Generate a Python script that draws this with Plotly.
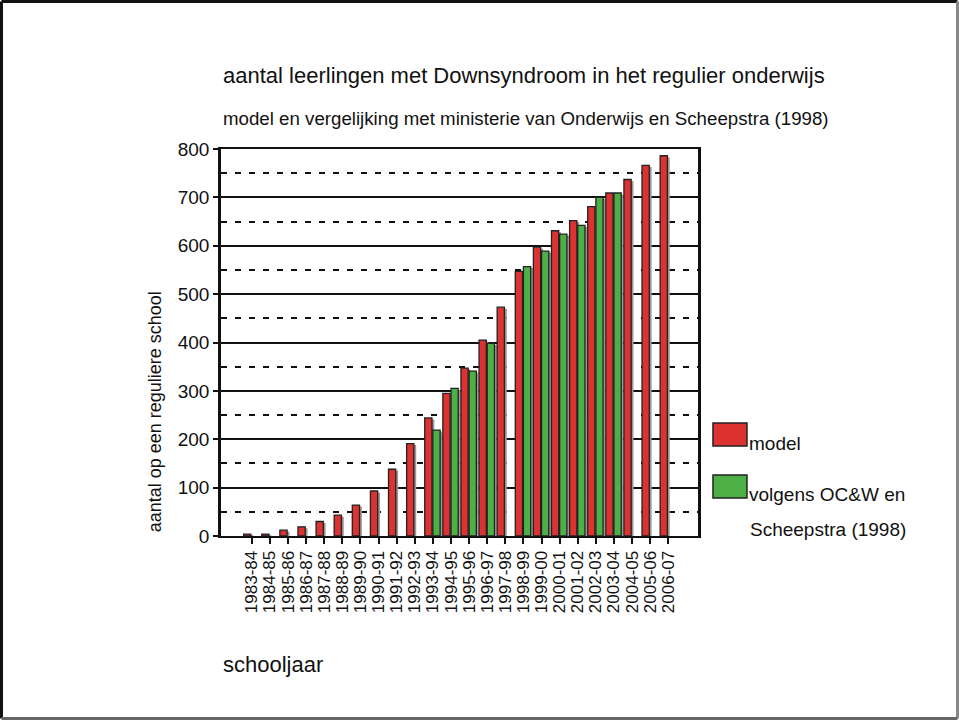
import plotly.graph_objects as go

# schooljaren
categories = ["1983-84", "1984-85", "1985-86", "1986-87", "1987-88", "1988-89",
              "1989-90", "1990-91", "1991-92", "1992-93", "1993-94", "1994-95",
              "1995-96", "1996-97", "1997-98", "1998-99", "1999-00", "2000-01",
              "2001-02", "2002-03", "2003-04", "2004-05", "2005-06", "2006-07"]

# model
model = [4, 4, 12, 19, 30, 43, 64, 93, 138, 191, 244, 295,
         347, 405, 473, 547, 597, 631, 652, 681, 709, 737, 766, 786]

# volgens OC&W en Scheepstra (1998)
ocw = [None, None, None, None, None, None, None, None, None, None, 219, 305,
       341, 398, None, 557, 589, 624, 642, 700, 709, None, None, None]

y_ticks = [0, 100, 200, 300, 400, 500, 600, 700, 800]

RED = "#DC3232"
GREEN = "#4DB046"
SHADOW = "#9a9a9a"
FONT = "Liberation Sans, Arial, sans-serif"

x = list(range(len(categories)))
bar_w = 0.40
red_off = -0.45
green_off = 0.0
sh = 0.13  # schaduw verschuiving

fig = go.Figure()

# schaduwen achter de balken
fig.add_trace(go.Bar(x=x, y=[v - 3 if v else None for v in model], offset=red_off + sh, width=bar_w,
                     marker=dict(color=SHADOW, line=dict(width=0)), hoverinfo="skip", showlegend=False))
fig.add_trace(go.Bar(x=x, y=[v - 3 if v else None for v in ocw], offset=green_off + sh, width=bar_w,
                     marker=dict(color=SHADOW, line=dict(width=0)), hoverinfo="skip", showlegend=False))

fig.add_trace(go.Bar(x=x, y=model, offset=red_off, width=bar_w, name="model",
                     marker=dict(color=RED, line=dict(color="#222", width=1.3))))
fig.add_trace(go.Bar(x=x, y=ocw, offset=green_off, width=bar_w, name="volgens OC&W en Scheepstra (1998)",
                     marker=dict(color=GREEN, line=dict(color="#222", width=1.3))))

fig.update_layout(
    width=959, height=720,
    margin=dict(l=221, r=261, t=149, b=184),
    barmode="overlay",
    showlegend=False,
    plot_bgcolor="white", paper_bgcolor="white",
    font=dict(family=FONT, color="#111"),
    xaxis=dict(
        range=[-1.70, 24.64], tickmode="array", tickvals=x, ticktext=categories,
        tickangle=-90, tickfont=dict(size=17), showgrid=False, zeroline=False,
        showline=True, linecolor="#111", linewidth=2, mirror=True,
        ticks="outside", ticklen=6, tickwidth=1.5, tickcolor="#111",
    ),
    yaxis=dict(
        range=[0, 800], tickvals=y_ticks, tickfont=dict(size=19),
        showgrid=True, gridcolor="#111", gridwidth=2, zeroline=False,
        showline=True, linecolor="#111", linewidth=2.5, mirror=True,
        ticks="outside", ticklen=5, tickwidth=2, tickcolor="#111",
        minor=dict(dtick=50, tick0=50, showgrid=True, gridcolor="#111",
                   gridwidth=2, griddash="6px,8px", ticks=""),
    ),
)

# titels
fig.add_annotation(text="aantal leerlingen met Downsyndroom in het regulier onderwijs",
                   x=0.0, y=1.191, xref="paper", yref="paper", xanchor="left", yanchor="middle",
                   showarrow=False, font=dict(size=22))
fig.add_annotation(text="model en vergelijking met ministerie van Onderwijs en Scheepstra (1998)",
                   x=0.0, y=1.080, xref="paper", yref="paper", xanchor="left", yanchor="middle",
                   showarrow=False, font=dict(size=18.7))
fig.add_annotation(text="aantal op een reguliere school", textangle=-90,
                   x=-0.138, y=0.320, xref="paper", yref="paper", xanchor="center", yanchor="middle",
                   showarrow=False, font=dict(size=18))
fig.add_annotation(text="schooljaar",
                   x=0.0, y=-0.333, xref="paper", yref="paper", xanchor="left", yanchor="middle",
                   showarrow=False, font=dict(size=22))

# legenda
fig.add_shape(type="rect", xref="paper", yref="paper", x0=1.0314, x1=1.1027, y0=0.2326, y1=0.2920,
              fillcolor=RED, line=dict(color="#222", width=1.5))
fig.add_shape(type="rect", xref="paper", yref="paper", x0=1.0314, x1=1.1027, y0=0.0982, y1=0.1576,
              fillcolor=GREEN, line=dict(color="#222", width=1.5))
fig.add_annotation(text="model", x=1.1027, y=0.238, xref="paper", yref="paper",
                   xanchor="left", yanchor="middle", showarrow=False, font=dict(size=19))
fig.add_annotation(text="volgens OC&W en", x=1.1027, y=0.106, xref="paper", yref="paper",
                   xanchor="left", yanchor="middle", showarrow=False, font=dict(size=19))
fig.add_annotation(text="Scheepstra (1998)", x=1.1048, y=0.018, xref="paper", yref="paper",
                   xanchor="left", yanchor="middle", showarrow=False, font=dict(size=19))

# kader rond de hele dia
fig.add_shape(type="line", xref="paper", yref="paper", x0=-0.4602, x1=-0.4602, y0=-0.4716, y1=1.3811,
              line=dict(color="#111", width=3))
fig.add_shape(type="line", xref="paper", yref="paper", x0=-0.4602, x1=1.5440, y0=1.3811, y1=1.3811,
              line=dict(color="#111", width=3))
fig.add_shape(type="line", xref="paper", yref="paper", x0=1.5440, x1=1.5440, y0=-0.4716, y1=1.3811,
              line=dict(color="#888", width=3))
fig.add_shape(type="line", xref="paper", yref="paper", x0=-0.4602, x1=1.5440, y0=-0.4716, y1=-0.4716,
              line=dict(color="#666", width=3))

# geen marge rond de pagina, geen modebar
fig.write_html("out.html", config={"displayModeBar": False},
               post_script="document.body.style.margin='0';")
